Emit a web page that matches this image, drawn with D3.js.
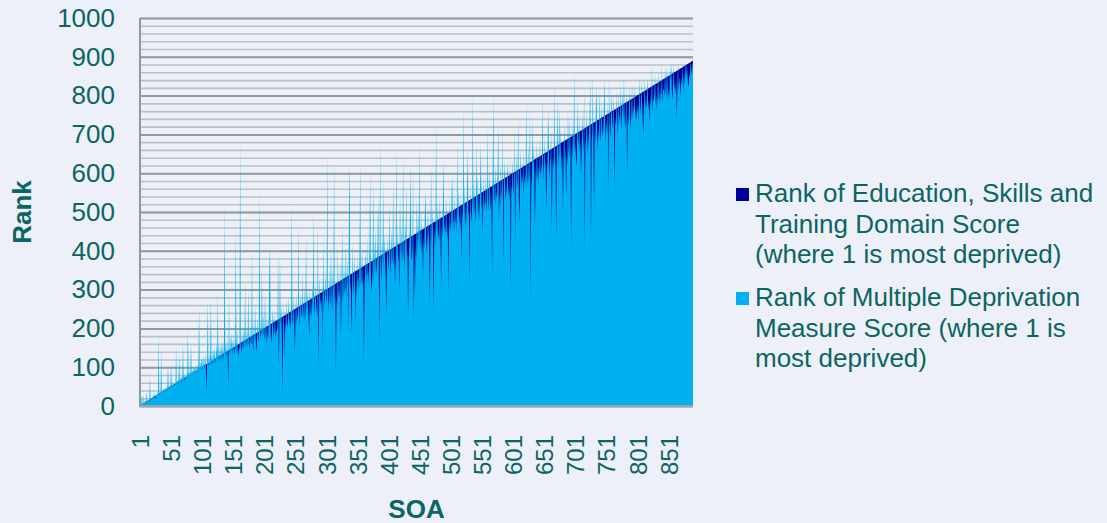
<!DOCTYPE html>
<html>
<head>
<meta charset="utf-8">
<script src="https://cdn.jsdelivr.net/npm/d3@7"></script>
<style>
body { margin: 0; background: #eef0f9; }
svg { display: block; font-family: "Liberation Sans", Arial, sans-serif; }
</style>
</head>
<body>
<svg id="chart" width="1107" height="523"></svg>
<script>

// SOAs ordered by education rank, so the education rank runs 1..890
var eduRank = [
1,2,3,4,5,6,7,8,9,10,11,12,13,14,15,16,17,18,19,20,21,22,23,24,25,26,27,28,29,30,
31,32,33,34,35,36,37,38,39,40,41,42,43,44,45,46,47,48,49,50,51,52,53,54,55,56,57,58,59,60,
61,62,63,64,65,66,67,68,69,70,71,72,73,74,75,76,77,78,79,80,81,82,83,84,85,86,87,88,89,90,
91,92,93,94,95,96,97,98,99,100,101,102,103,104,105,106,107,108,109,110,111,112,113,114,115,116,117,118,119,120,
121,122,123,124,125,126,127,128,129,130,131,132,133,134,135,136,137,138,139,140,141,142,143,144,145,146,147,148,149,150,
151,152,153,154,155,156,157,158,159,160,161,162,163,164,165,166,167,168,169,170,171,172,173,174,175,176,177,178,179,180,
181,182,183,184,185,186,187,188,189,190,191,192,193,194,195,196,197,198,199,200,201,202,203,204,205,206,207,208,209,210,
211,212,213,214,215,216,217,218,219,220,221,222,223,224,225,226,227,228,229,230,231,232,233,234,235,236,237,238,239,240,
241,242,243,244,245,246,247,248,249,250,251,252,253,254,255,256,257,258,259,260,261,262,263,264,265,266,267,268,269,270,
271,272,273,274,275,276,277,278,279,280,281,282,283,284,285,286,287,288,289,290,291,292,293,294,295,296,297,298,299,300,
301,302,303,304,305,306,307,308,309,310,311,312,313,314,315,316,317,318,319,320,321,322,323,324,325,326,327,328,329,330,
331,332,333,334,335,336,337,338,339,340,341,342,343,344,345,346,347,348,349,350,351,352,353,354,355,356,357,358,359,360,
361,362,363,364,365,366,367,368,369,370,371,372,373,374,375,376,377,378,379,380,381,382,383,384,385,386,387,388,389,390,
391,392,393,394,395,396,397,398,399,400,401,402,403,404,405,406,407,408,409,410,411,412,413,414,415,416,417,418,419,420,
421,422,423,424,425,426,427,428,429,430,431,432,433,434,435,436,437,438,439,440,441,442,443,444,445,446,447,448,449,450,
451,452,453,454,455,456,457,458,459,460,461,462,463,464,465,466,467,468,469,470,471,472,473,474,475,476,477,478,479,480,
481,482,483,484,485,486,487,488,489,490,491,492,493,494,495,496,497,498,499,500,501,502,503,504,505,506,507,508,509,510,
511,512,513,514,515,516,517,518,519,520,521,522,523,524,525,526,527,528,529,530,531,532,533,534,535,536,537,538,539,540,
541,542,543,544,545,546,547,548,549,550,551,552,553,554,555,556,557,558,559,560,561,562,563,564,565,566,567,568,569,570,
571,572,573,574,575,576,577,578,579,580,581,582,583,584,585,586,587,588,589,590,591,592,593,594,595,596,597,598,599,600,
601,602,603,604,605,606,607,608,609,610,611,612,613,614,615,616,617,618,619,620,621,622,623,624,625,626,627,628,629,630,
631,632,633,634,635,636,637,638,639,640,641,642,643,644,645,646,647,648,649,650,651,652,653,654,655,656,657,658,659,660,
661,662,663,664,665,666,667,668,669,670,671,672,673,674,675,676,677,678,679,680,681,682,683,684,685,686,687,688,689,690,
691,692,693,694,695,696,697,698,699,700,701,702,703,704,705,706,707,708,709,710,711,712,713,714,715,716,717,718,719,720,
721,722,723,724,725,726,727,728,729,730,731,732,733,734,735,736,737,738,739,740,741,742,743,744,745,746,747,748,749,750,
751,752,753,754,755,756,757,758,759,760,761,762,763,764,765,766,767,768,769,770,771,772,773,774,775,776,777,778,779,780,
781,782,783,784,785,786,787,788,789,790,791,792,793,794,795,796,797,798,799,800,801,802,803,804,805,806,807,808,809,810,
811,812,813,814,815,816,817,818,819,820,821,822,823,824,825,826,827,828,829,830,831,832,833,834,835,836,837,838,839,840,
841,842,843,844,845,846,847,848,849,850,851,852,853,854,855,856,857,858,859,860,861,862,863,864,865,866,867,868,869,870,
871,872,873,874,875,876,877,878,879,880,881,882,883,884,885,886,887,888,889,890
];

// MDM rank for the same SOAs
var mdmRank = [
2,1,28,3,6,30,4,9,12,7,
40,8,15,10,18,12,75,14,22,16,
26,17,30,21,35,19,29,24,38,27,
187,28,36,30,144,33,41,35,45,37,
48,39,52,40,47,110,44,55,43,56,
112,47,60,49,63,52,58,54,153,57,
68,55,70,136,62,74,60,78,64,162,
80,66,84,69,81,72,88,196,75,92,
77,90,162,79,95,83,99,85,102,86,
104,88,107,90,110,252,93,115,92,118,
124,90,130,95,112,135,92,33,128,273,
98,138,102,140,277,100,142,106,150,104,
155,108,133,160,110,290,112,165,115,158,
118,170,112,162,120,175,520,122,168,125,
178,128,45,290,126,182,130,190,132,172,
139,187,133,146,462,131,197,143,129,150,
143,694,153,136,195,154,145,206,154,325,
151,163,205,148,306,162,147,206,167,158,
402,167,140,214,165,264,177,140,164,225,
179,164,557,224,177,188,359,176,239,185,
171,290,188,159,240,184,169,236,351,411,
190,161,186,254,200,177,199,247,174,196,
191,207,402,101,192,389,205,263,187,33,
204,262,123,216,190,274,215,202,224,282,
208,224,195,274,522,224,209,284,222,136,
230,292,211,239,225,471,205,240,291,227,
237,344,225,249,303,221,246,437,239,300,
253,230,178,310,248,228,262,318,246,505,
259,237,318,266,249,229,479,101,268,332,
261,277,242,332,144,436,273,256,344,282,
263,651,281,244,350,276,259,419,291,242,
351,279,634,262,294,92,275,255,402,293,
276,304,373,180,287,471,267,304,367,288,
304,427,281,316,377,196,531,620,294,318,
187,304,419,284,324,394,213,318,281,386,
318,334,296,399,634,314,333,410,307,330,
110,317,342,404,302,436,334,350,315,425,
600,345,290,326,353,583,317,423,341,462,
339,361,433,540,331,161,694,358,321,432,
367,583,348,442,377,339,231,365,444,349,
371,531,340,382,457,364,389,583,357,383,
316,376,669,354,461,392,372,299,557,387,
465,370,402,643,386,358,477,401,574,382,
401,239,376,416,483,625,395,375,415,608,
213,404,273,423,376,540,393,493,419,686,
406,430,505,394,422,333,439,407,505,557,
434,396,424,514,444,418,264,438,617,413,
515,448,247,432,457,413,737,445,527,428,
454,422,538,448,307,465,433,530,634,448,
473,441,543,464,427,472,286,544,454,479,
444,554,591,471,487,446,552,469,487,444,
677,482,561,466,494,447,557,376,483,502,
772,468,573,497,462,505,573,660,487,506,
316,580,500,474,514,806,492,582,512,472,
517,677,492,596,515,480,529,588,677,508,
524,436,603,500,534,517,603,498,529,720,
525,505,611,540,502,548,333,608,806,525,
544,624,516,553,536,620,729,479,549,514,
629,558,532,729,359,553,637,570,529,554,
570,638,539,564,527,648,290,571,554,640,
568,542,720,419,584,651,559,584,746,538,
471,582,663,560,597,574,661,543,592,575,
600,789,560,594,673,575,605,772,264,591,
565,746,606,680,590,462,619,581,681,607,
566,618,601,694,585,625,599,797,619,582,
695,616,635,505,601,629,763,698,587,627,
640,710,453,619,641,600,832,638,617,427,
644,797,613,653,772,634,723,603,649,632,
496,658,727,627,667,540,648,622,763,663,
640,740,663,410,674,633,737,662,866,655,
677,633,617,797,672,688,751,654,682,591,
669,758,692,654,823,402,687,667,761,696,
649,689,705,764,840,427,682,701,849,664,
505,711,679,778,823,700,662,714,694,815,
711,679,785,723,694,719,787,840,680,717,
733,695,791,557,849,726,691,734,815,715,
734,804,703,565,744,724,815,696,739,806,
720,754,737,832,709,752,815,733,849,750,
712,761,819,591,746,726,763,822,741,715,
764,830,739,776,753,828,737,765,733,779,
756,778,731,849,775,752,837,787,749,694,
778,846,747,790,770,798,849,761,789,729,
800,771,796,875,756,790,789,810,859,776,
801,760,812,864,787,809,777,820,800,883,
775,818,815,799,873,816,793,879,828,787,
818,801,879,836,888,814,788,834,883,815,
834,802,842,737,829,886,813,850,827,798,
847,827,887,808,845,858,826,888,846,883,
860,828,823,857,843,888,869,852,877,888
];

var yTicks = [0, 100, 200, 300, 400, 500, 600, 700, 800, 900, 1000];
var xTickLabels = [1, 51, 101, 151, 201, 251, 301, 351, 401, 451, 501, 551, 601, 651, 701, 751, 801, 851];

var legendLines = [
	["Rank of Education, Skills and", "Training Domain Score", "(where 1 is most deprived)"],
	["Rank of Multiple Deprivation", "Measure Score (where 1 is", "most deprived)"]
];
var seriesColors = ["#000096", "#00b0f0"];
var textColor = "#0b6563";

var plotLeft = 140, plotRight = 693, plotTop = 18, plotBottom = 406;

var svg = d3.select("#chart");

var x = d3.scalePoint()
	.domain(eduRank)
	.range([plotLeft, plotRight]);

var y = d3.scaleLinear()
	.domain([0, 1000])
	.range([plotBottom, plotTop]);

// minor gridlines every 20
svg.append("g")
	.attr("transform", "translate(" + plotLeft + ",0)")
	.call(d3.axisLeft(y).ticks(50).tickSize(-(plotRight - plotLeft)).tickFormat(""))
	.call(function(g) {
		g.select(".domain").remove();
		g.selectAll("line").attr("stroke", "#b7c2c2").attr("stroke-width", 1.6);
	});

// major gridlines every 100
svg.append("g")
	.attr("transform", "translate(" + plotLeft + ",0)")
	.call(d3.axisLeft(y).tickValues(yTicks).tickSize(-(plotRight - plotLeft)).tickFormat(""))
	.call(function(g) {
		g.select(".domain").remove();
		g.selectAll("line").attr("stroke", "#8c9c9c").attr("stroke-width", 2);
	});

function areaPath(vals) {
	return d3.area()
		.x(function(d, i) { return x(eduRank[i]); })
		.y0(y(0))
		.y1(function(d) { return y(d); })(vals);
}

svg.append("path")
	.attr("d", areaPath(eduRank))
	.attr("fill", seriesColors[0]);

svg.append("path")
	.attr("d", areaPath(mdmRank))
	.attr("fill", seriesColors[1]);

// axis lines
svg.append("line")
	.attr("x1", plotLeft).attr("x2", plotLeft)
	.attr("y1", plotTop).attr("y2", plotBottom + 1)
	.attr("stroke", "#8c9a9a").attr("stroke-width", 2);

svg.append("line")
	.attr("x1", plotLeft).attr("x2", plotRight)
	.attr("y1", plotBottom).attr("y2", plotBottom)
	.attr("stroke", "#9aa6a6").attr("stroke-width", 2);

// y tick labels
svg.append("g")
	.attr("transform", "translate(" + plotLeft + ",0)")
	.call(d3.axisLeft(y).tickValues(yTicks).tickSize(0).tickPadding(25).tickFormat(d3.format("d")))
	.call(function(g) {
		g.select(".domain").remove();
		g.selectAll("text")
			.attr("fill", textColor)
			.style("font-size", "26px")
			.style("font-family", "'Liberation Sans', Arial, sans-serif");
	});

// x tick labels, rotated
svg.append("g")
	.attr("transform", "translate(0," + plotBottom + ")")
	.call(d3.axisBottom(x).tickValues(xTickLabels).tickSize(0))
	.call(function(g) {
		g.select(".domain").remove();
		g.selectAll("text")
			.attr("transform", "rotate(-90)")
			.attr("text-anchor", "end")
			.attr("x", -29)
			.attr("y", 0)
			.attr("dy", "0.35em")
			.attr("fill", textColor)
			.style("font-size", "24px")
			.style("font-family", "'Liberation Sans', Arial, sans-serif");
	});

// axis titles
svg.append("text")
	.attr("transform", "translate(31," + ((plotTop + plotBottom) / 2) + ") rotate(-90)")
	.attr("text-anchor", "middle")
	.attr("fill", textColor)
	.style("font-size", "26px")
	.style("font-weight", "bold")
	.text("Rank");

svg.append("text")
	.attr("x", (plotLeft + plotRight) / 2)
	.attr("y", 518)
	.attr("text-anchor", "middle")
	.attr("fill", textColor)
	.style("font-size", "26px")
	.style("font-weight", "bold")
	.text("SOA");

// legend
var legendTop = [188, 292];
var legend = svg.selectAll(".legend")
	.data(legendLines)
	.enter()
	.append("g")
	.attr("class", "legend")
	.attr("transform", function(d, i) { return "translate(736," + legendTop[i] + ")"; });

legend.append("rect")
	.attr("width", 13)
	.attr("height", 13)
	.attr("fill", function(d, i) { return seriesColors[i]; });

legend.each(function(lines) {
	var g = d3.select(this);
	lines.forEach(function(line, j) {
		g.append("text")
			.attr("x", 19)
			.attr("y", 14 + j * 30.5)
			.attr("fill", textColor)
			.style("font-size", "26px")
			.text(line);
	});
});

</script>
</body>
</html>
